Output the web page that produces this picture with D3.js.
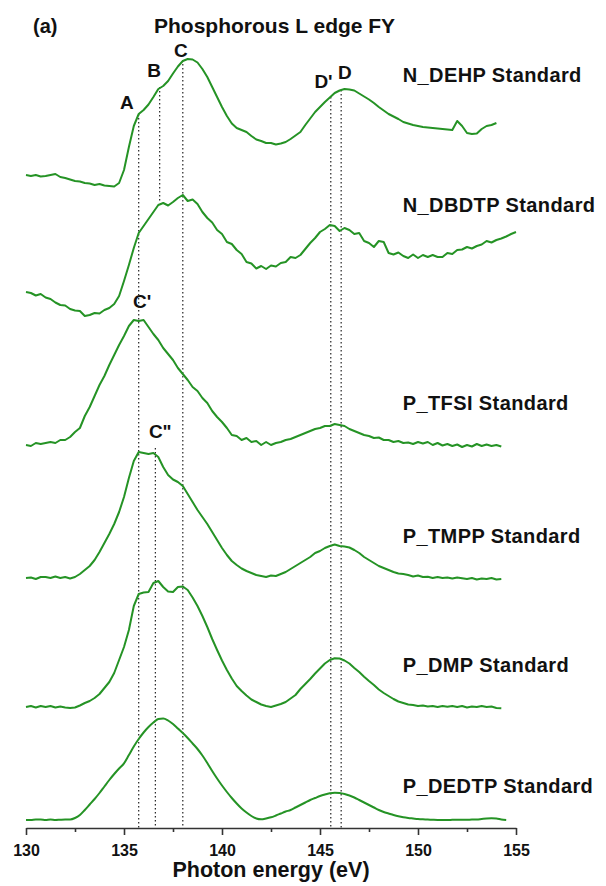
<!DOCTYPE html>
<html>
<head>
<meta charset="utf-8">
<script src="https://cdnjs.cloudflare.com/ajax/libs/d3/7.8.5/d3.min.js"></script>
<style>
  body { margin: 0; background: #fff; }
  svg text { font-family: Arial, "Liberation Sans", sans-serif; font-weight: bold; fill: #111; }
</style>
</head>
<body>
<svg id="chart" width="606" height="886"></svg>
<script>
// spectra sampled every 0.25 eV from 130 eV (intensity in a.u., above each trace's own baseline)
var eStart = 130, eStep = 0.25;

var nDEHP = [
    0.11, 0.10, 0.11, 0.095, 0.10, 0.11, 0.12, 0.09,
    0.08, 0.065, 0.05, 0.045, 0.03, 0.025, 0.01, 0.02,
    0.005, 0.0, -0.005, 0.03, 0.16, 0.39, 0.60, 0.72,
    0.76, 0.815, 0.89, 0.97, 1.00, 1.05, 1.125, 1.195,
    1.25, 1.27, 1.265, 1.235, 1.17, 1.09, 0.99, 0.89,
    0.79, 0.70, 0.625, 0.58, 0.56, 0.54, 0.50, 0.465,
    0.45, 0.43, 0.43, 0.415, 0.425, 0.44, 0.47, 0.505,
    0.54, 0.61, 0.675, 0.74, 0.79, 0.84, 0.885, 0.93,
    0.955, 0.97, 0.965, 0.955, 0.925, 0.895, 0.865, 0.83,
    0.79, 0.755, 0.72, 0.695, 0.67, 0.64, 0.625, 0.61,
    0.60, 0.59, 0.585, 0.58, 0.575, 0.57, 0.565, 0.56,
    0.65, 0.60, 0.53, 0.52, 0.525, 0.57, 0.60, 0.61,
    0.63
];

var nDBDTP = [
    0.24, 0.23, 0.205, 0.22, 0.185, 0.17, 0.135, 0.11,
    0.105, 0.07, 0.055, 0.05, 0.00, 0.01, 0.03, 0.025,
    0.06, 0.08, 0.12, 0.20, 0.35, 0.51, 0.68, 0.83,
    0.90, 0.97, 1.04, 1.11, 1.13, 1.105, 1.14, 1.18,
    1.21, 1.15, 1.165, 1.12, 1.04, 0.98, 0.935, 0.86,
    0.82, 0.74, 0.72, 0.66, 0.62, 0.54, 0.525, 0.475,
    0.50, 0.47, 0.505, 0.495, 0.53, 0.54, 0.59, 0.58,
    0.61, 0.67, 0.73, 0.78, 0.84, 0.87, 0.91, 0.90,
    0.85, 0.88, 0.86, 0.82, 0.83, 0.75, 0.73, 0.69,
    0.75, 0.74, 0.63, 0.615, 0.635, 0.60, 0.58, 0.615,
    0.58, 0.61, 0.59, 0.61, 0.59, 0.59, 0.63, 0.62,
    0.66, 0.665, 0.69, 0.675, 0.70, 0.715, 0.75, 0.735,
    0.76, 0.775, 0.795, 0.82, 0.84
];

var pTFSI = [
    0.01, 0.00, 0.03, 0.02, 0.03, 0.04, 0.03, 0.06,
    0.06, 0.09, 0.14, 0.18, 0.30, 0.39, 0.50, 0.61,
    0.70, 0.81, 0.91, 1.01, 1.10, 1.20, 1.26, 1.25,
    1.26, 1.19, 1.12, 1.06, 0.98, 0.92, 0.86, 0.78,
    0.72, 0.66, 0.59, 0.55, 0.48, 0.43, 0.35, 0.29,
    0.24, 0.18, 0.11, 0.10, 0.06, 0.08, 0.04, 0.05,
    0.01, 0.04, 0.01, 0.03, 0.04, 0.06, 0.07, 0.09,
    0.11, 0.13, 0.15, 0.17, 0.18, 0.20, 0.20, 0.22,
    0.21, 0.20, 0.17, 0.15, 0.13, 0.11, 0.10, 0.08,
    0.085, 0.06, 0.06, 0.04, 0.05, 0.03, 0.035, 0.02,
    0.04, 0.025, 0.04, 0.01, 0.03, 0.005, 0.02, 0.00,
    0.015, -0.01, 0.01, -0.005, 0.02, 0.00, 0.015, 0.00,
    0.01, -0.005
];

var pTMPP = [
    0.01, 0.015, 0.00, 0.02, 0.02, 0.01, 0.025, 0.01,
    0.02, 0.005, 0.02, 0.05, 0.09, 0.13, 0.19, 0.27,
    0.36, 0.45, 0.55, 0.67, 0.82, 1.01, 1.18, 1.27,
    1.26, 1.25, 1.26, 1.22, 1.12, 1.04, 0.995, 0.97,
    0.93, 0.85, 0.77, 0.69, 0.62, 0.55, 0.47, 0.39,
    0.31, 0.24, 0.18, 0.14, 0.105, 0.08, 0.06, 0.04,
    0.03, 0.02, 0.035, 0.03, 0.05, 0.07, 0.10, 0.13,
    0.16, 0.19, 0.22, 0.26, 0.28, 0.31, 0.33, 0.345,
    0.33, 0.325, 0.315, 0.29, 0.26, 0.22, 0.19, 0.16,
    0.13, 0.11, 0.09, 0.07, 0.055, 0.05, 0.04, 0.025,
    0.035, 0.02, 0.023, 0.01, 0.02, 0.01, 0.015, 0.005,
    0.015, 0.007, 0.00, 0.01, -0.005, 0.005, 0.00, 0.01,
    -0.005, 0.00
];

var pDMP = [
    0.00, 0.01, -0.005, 0.01, 0.00, 0.01, -0.005, 0.005,
    -0.005, -0.01, -0.005, 0.015, 0.04, 0.06, 0.09, 0.13,
    0.19, 0.25, 0.34, 0.47, 0.60, 0.77, 1.01, 1.13,
    1.145, 1.15, 1.24, 1.26, 1.20, 1.155, 1.15, 1.20,
    1.205, 1.17, 1.095, 1.01, 0.91, 0.80, 0.68, 0.57,
    0.465, 0.37, 0.285, 0.21, 0.16, 0.115, 0.075, 0.05,
    0.025, 0.01, 0.00, 0.015, 0.03, 0.05, 0.085, 0.12,
    0.18, 0.23, 0.28, 0.335, 0.385, 0.435, 0.47, 0.487,
    0.485, 0.465, 0.435, 0.39, 0.35, 0.303, 0.26, 0.22,
    0.175, 0.14, 0.11, 0.08, 0.055, 0.04, 0.025, 0.02,
    0.01, 0.015, 0.005, 0.01, 0.00, 0.01, 0.003, 0.01,
    0.00, 0.01, -0.005, 0.005, 0.00, 0.01, 0.00, 0.005,
    -0.01, -0.013
];

var pDEDTP = [
    0, 0, 0.005, 0.005, 0, 0.005, 0, 0.003,
    0.005, 0.005, 0.02, 0.05, 0.10, 0.155, 0.21, 0.27,
    0.335, 0.40, 0.46, 0.515, 0.567, 0.65, 0.735, 0.81,
    0.875, 0.93, 0.975, 1.01, 1.015, 0.995, 0.96, 0.915,
    0.87, 0.82, 0.765, 0.71, 0.645, 0.57, 0.49, 0.415,
    0.345, 0.28, 0.22, 0.165, 0.115, 0.075, 0.04, 0.015,
    0.007, 0.015, 0.027, 0.045, 0.065, 0.085, 0.10, 0.125,
    0.15, 0.175, 0.20, 0.22, 0.24, 0.255, 0.267, 0.273,
    0.27, 0.26, 0.245, 0.225, 0.20, 0.175, 0.15, 0.125,
    0.10, 0.08, 0.065, 0.05, 0.037, 0.027, 0.02, 0.015,
    0.01, 0.007, 0.005, 0.002, 0, 0, 0, 0.002,
    0.003, 0.002, 0.003, 0.004, 0.005, 0.01, 0.015, 0.017,
    0.015, 0.005, 0.0
];

var seriesNames = ['N_DEHP Standard', 'N_DBDTP Standard', 'P_TFSI Standard',
                   'P_TMPP Standard', 'P_DMP Standard', 'P_DEDTP Standard'];
var seriesValues = [nDEHP, nDBDTP, pTFSI, pTMPP, pDMP, pDEDTP];
var offsets = [6.42, 5.12, 3.82, 2.49, 1.21, 0.08];
var smoothed = [false, false, false, false, false, true];

// where each name sits (energy of left edge, a.u. of baseline)
var nameE = 149.22;
var nameY = [7.46, 6.16, 4.18, 2.85, 1.56, 0.35];

// dotted guide lines at the peak energies
var guideE = [135.75, 136.82, 138.0, 136.6, 145.55, 146.08];
var guideTop = [7.14, 7.41, 7.68, 3.80, 7.31, 7.38];
var guideBottom = [0, 6.25, 0, 0, 0, 0];

// peak letters
var peakText = ['A', 'B', 'C', "C'", 'C"', "D'", 'D'];
var peakE = [135.15, 136.54, 137.9, 135.92, 136.85, 145.18, 146.27];
var peakY = [7.19, 7.51, 7.71, 5.20, 3.90, 7.40, 7.49];

var majorTicks = [130, 135, 140, 145, 150, 155];
var minorTicks = [132.5, 137.5, 142.5, 147.5, 152.5];

var svg = d3.select('#chart');

var x = d3.scaleLinear().domain([130, 155]).range([26, 516]);
var y = d3.scaleLinear().domain([0, 8]).range([828, 28]);

// guides first so traces sit on top
svg.append('g').selectAll('line')
    .data(guideE)
    .enter().append('line')
    .attr('x1', function (d) { return x(d); })
    .attr('x2', function (d) { return x(d); })
    .attr('y1', function (d, i) { return y(guideTop[i]); })
    .attr('y2', function (d, i) { return y(guideBottom[i]); })
    .attr('stroke', '#222')
    .attr('stroke-width', 1.2)
    .attr('stroke-dasharray', '1.5,2.5');

seriesValues.forEach(function (vals, k) {
    var line = d3.line()
        .x(function (d, i) { return x(eStart + i * eStep); })
        .y(function (d) { return y(offsets[k] + d); })
        .curve(smoothed[k] ? d3.curveMonotoneX : d3.curveLinear);

    svg.append('path')
        .datum(vals)
        .attr('d', line)
        .attr('fill', 'none')
        .attr('stroke', '#259325')
        .attr('stroke-width', 2)
        .attr('stroke-linejoin', 'round');
});

svg.append('g').selectAll('text')
    .data(seriesNames)
    .enter().append('text')
    .attr('x', x(nameE))
    .attr('y', function (d, i) { return y(nameY[i]); })
    .style('font-size', '20px')
    .style('letter-spacing', '0.4px')
    .text(function (d) { return d; });

svg.append('g').selectAll('text')
    .data(peakText)
    .enter().append('text')
    .attr('x', function (d, i) { return x(peakE[i]); })
    .attr('y', function (d, i) { return y(peakY[i]); })
    .attr('text-anchor', 'middle')
    .style('font-size', '19px')
    .text(function (d) { return d; });

// x axis
var axis = svg.append('g')
    .attr('transform', 'translate(0,' + y(0) + ')')
    .call(d3.axisBottom(x).tickValues(majorTicks).tickSize(7).tickSizeOuter(0)
        .tickPadding(10).tickFormat(d3.format('d')));
axis.select('.domain').attr('stroke', '#333').attr('stroke-width', 1.6);
axis.selectAll('.tick line').attr('stroke', '#333').attr('stroke-width', 1.6);
axis.selectAll('.tick text').style('font-size', '16px').attr('fill', '#111');

var minor = svg.append('g')
    .attr('transform', 'translate(0,' + y(0) + ')')
    .call(d3.axisBottom(x).tickValues(minorTicks).tickSize(4).tickFormat(''));
minor.select('.domain').remove();
minor.selectAll('.tick line').attr('stroke', '#333').attr('stroke-width', 1.6);

svg.append('text')
    .attr('x', (x(130) + x(155)) / 2)
    .attr('y', 877)
    .attr('text-anchor', 'middle')
    .style('font-size', '21.5px')
    .text('Photon energy (eV)');

svg.append('text')
    .attr('x', 33)
    .attr('y', 33)
    .style('font-size', '20px')
    .text('(a)');

svg.append('text')
    .attr('x', 154)
    .attr('y', 33)
    .style('font-size', '21px')
    .text('Phosphorous L edge FY');
</script>
</body>
</html>
